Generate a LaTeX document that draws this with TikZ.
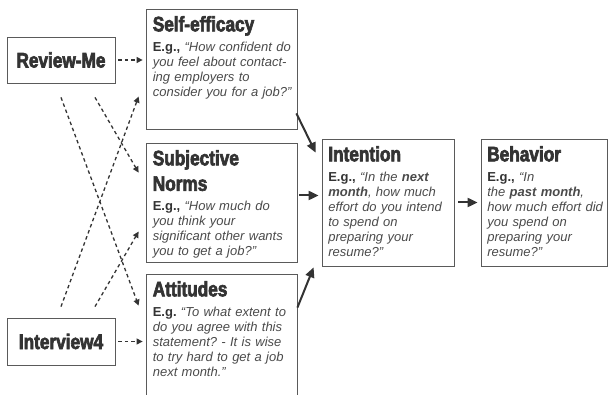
\documentclass[tikz,border=0pt]{standalone}
\usepackage{fontspec}
\setmainfont{Liberation Sans}
\newfontfamily\headfont{Liberation Sans Bold}[FakeStretch=0.82,FakeBold=3]
\usepackage{xcolor}
\usetikzlibrary{calc,arrows.meta}
\definecolor{ink}{HTML}{333333}
\definecolor{frame}{HTML}{5A5A5A}
\definecolor{body}{HTML}{4A4A4A}
\frenchspacing
\tikzset{
  box/.style={draw=frame, line width=0.8pt, inner sep=0pt},
  head/.style={text=ink, font=\headfont\fontsize{21}{24}\selectfont},
  txt/.style={anchor=north west, inner sep=0pt, text width=160pt, align=left,
    text=body, font=\frenchspacing\fontsize{13}{15}\selectfont\itshape},
  link/.style={draw=ink, line width=1.3pt, dash pattern=on 3.5pt off 3pt,
    -{Triangle[length=6pt,width=6pt]}},
  push/.style={draw=ink, line width=2pt, -{Triangle[length=10pt,width=9pt]}},
}
\newcommand{\hd}[1]{{\headfont\upshape\fontsize{21}{25.5}\selectfont\color{ink}#1\par}\vspace{5pt}}
\newcommand{\eg}[1]{{\color{ink}\bfseries\upshape #1}}

\begin{document}
\begin{tikzpicture}[x=1pt,y=-1pt]
  \useasboundingbox (0,0) rectangle (608,395);
  % sources
  \node[box, head, minimum width=108pt, minimum height=46pt] (rm) at (61,60) {Review-Me};
  \node[box, head, minimum width=108pt, minimum height=47pt] (iv) at (61,341.5) {Interview4};
  % constructs
  \node[box, minimum width=151pt, minimum height=120pt] (se) at (221.5,69) {};
  \node[box, minimum width=151pt, minimum height=119pt] (sn) at (221.5,202.5) {};
  \node[box, minimum width=151pt, minimum height=126pt] (at) at (221.5,337) {};
  \node[box, minimum width=132pt, minimum height=127pt] (in) at (388,202.5) {};
  \node[box, minimum width=126.5pt, minimum height=127pt] (be) at (544.25,202.5) {};

  \node[txt] (setxt) at ([shift={(7,7.3)}]se.north west) {\hd{Self-efficacy}
    \eg{E.g.,} “How confident do\\
    you feel about contact-\\
    ing employers to\\
    consider you for a job?”};
  \node[txt] (sntxt) at ([shift={(7,7.3)}]sn.north west) {\hd{Subjective\\Norms}
    \eg{E.g.,} “How much do\\
    you think your\\
    significant other wants\\
    you to get a job?”};
  \node[txt] (attxt) at ([shift={(7,7.3)}]at.north west) {\hd{Attitudes}
    \eg{E.g.} “To what extent to\\
    do you agree with this\\
    statement? - It is wise\\
    to try hard to get a job\\
    next month.”};
  \node[txt] (intxt) at ([shift={(6.5,7.3)}]in.north west) {\hd{Intention}
    \eg{E.g.,} “In the \textbf{next}\\
    \textbf{month}, how much\\
    effort do you intend\\
    to spend on\\
    preparing your\\
    resume?”};
  \node[txt] (betxt) at ([shift={(6.5,7.3)}]be.north west) {\hd{Behavior}
    \eg{E.g.,} “In\\
    the \textbf{past month},\\
    how much effort did\\
    you spend on\\
    preparing your\\
    resume?”};

  % manipulations
  \draw[link] ([xshift=3]rm.east) -- ([xshift=-3]rm.east -| se.west);
  \draw[link] ([xshift=3]iv.east) -- ([xshift=-3]iv.east -| at.west);
  \draw[link] ([shift={(0,14)}]rm.south) -- ([shift={(-7,32)}]at.north west);
  \draw[link] ([shift={(34,14)}]rm.south) -- ([shift={(-7,30)}]sn.north west);
  \draw[link] ([shift={(0,-11)}]iv.north) -- ([shift={(-7,88)}]se.north west);
  \draw[link] ([shift={(34,-11)}]iv.north) -- ([shift={(-7,89)}]sn.north west);

  % model paths
  \draw[push] ([shift={(-1,-16)}]se.south east) -- ([shift={(-6,14)}]in.north west);
  \draw[push] ([shift={(2,-7)}]sn.east) -- ([shift={(-3,-7)}]sn.east -| in.west);
  \draw[push] ([shift={(0,34)}]at.north east) -- ([shift={(-8,1)}]in.south west);
  \draw[push] ([xshift=4]in.east) -- ([xshift=-3]in.east -| be.west);
\end{tikzpicture}
\end{document}
